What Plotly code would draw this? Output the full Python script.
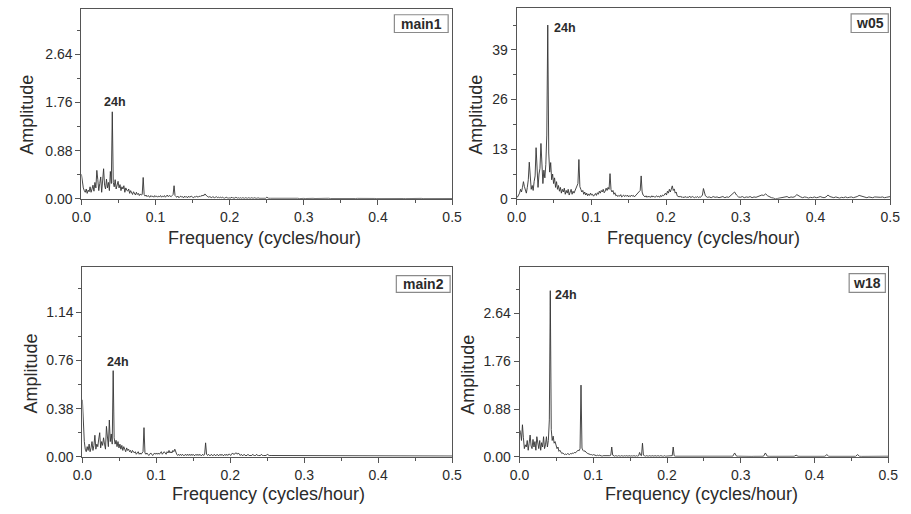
import plotly.graph_objects as go

W, H = 911, 514
DF_LOW = 1 / 768   # fine frequency step below 0.25 cycles/hour
DF_HIGH = 1 / 384  # coarser step from 0.25 to 0.5 cycles/hour
F_SPLIT = 0.25

# Amplitude spectra: "_low" bins cover 0 .. <0.25, "_high" bins cover 0.25 .. 0.5
main1_low = [
    0.45, 0.30, 0.20, 0.15, 0.12, 0.18, 0.10, 0.16, 0.13, 0.22, 0.12, 0.18, 0.25, 0.14, 0.30, 0.20,
    0.52, 0.35, 0.15, 0.28, 0.40, 0.12, 0.30, 0.55, 0.25, 0.18, 0.36, 0.20, 0.30, 0.15, 0.50, 0.28,
    1.59, 0.30, 0.22, 0.35, 0.18, 0.28, 0.32, 0.20, 0.26, 0.15, 0.22, 0.18, 0.24, 0.12, 0.20, 0.16,
    0.14, 0.18, 0.10, 0.15, 0.12, 0.08, 0.13, 0.10, 0.07, 0.12, 0.08, 0.10, 0.06, 0.09, 0.07, 0.08,
    0.39, 0.08, 0.05, 0.07, 0.04, 0.06, 0.05, 0.03, 0.06, 0.04, 0.05, 0.03, 0.06, 0.04, 0.05, 0.03,
    0.05, 0.04, 0.06, 0.03, 0.05, 0.04, 0.06, 0.03, 0.05, 0.07, 0.04, 0.06, 0.05, 0.04, 0.06, 0.08,
    0.24, 0.06, 0.04, 0.03, 0.05, 0.02, 0.04, 0.05, 0.03, 0.04, 0.02, 0.05, 0.03, 0.04, 0.02, 0.05,
    0.03, 0.04, 0.05, 0.03, 0.02, 0.04, 0.03, 0.05, 0.04, 0.03, 0.05, 0.04, 0.06, 0.05, 0.07, 0.06,
    0.09, 0.06, 0.05, 0.04, 0.03, 0.04, 0.03, 0.02, 0.04, 0.03, 0.02, 0.03, 0.04, 0.02, 0.03, 0.02,
    0.03, 0.02, 0.03, 0.02, 0.01, 0.02, 0.03, 0.02, 0.01, 0.02, 0.01, 0.02, 0.03, 0.01, 0.02, 0.01,
    0.03, 0.02, 0.01, 0.02, 0.01, 0.02, 0.01, 0.02, 0.01, 0.01, 0.02, 0.01, 0.01, 0.02, 0.01, 0.01,
    0.02, 0.01, 0.01, 0.02, 0.01, 0.01, 0.01, 0.02, 0.01, 0.01, 0.01, 0.01, 0.02, 0.01, 0.01, 0.01,
]
main1_high = [
    0.03, 0.01, 0.01, 0.01, 0.02, 0.01, 0.01, 0.01, 0.01, 0.01, 0.02, 0.01, 0.01, 0.01, 0.01, 0.01,
    0.01, 0.005, 0.01, 0.008, 0.006, 0.01, 0.007, 0.005, 0.009, 0.006, 0.008, 0.005, 0.007, 0.009, 0.006, 0.008,
    0.01, 0.006, 0.005, 0.008, 0.007, 0.005, 0.009, 0.006, 0.007, 0.005, 0.008, 0.006, 0.007, 0.005, 0.006, 0.008,
    0.009, 0.006, 0.005, 0.007, 0.006, 0.008, 0.005, 0.006, 0.007, 0.005, 0.006, 0.008, 0.005, 0.006, 0.007, 0.005,
    0.008, 0.006, 0.005, 0.007, 0.006, 0.005, 0.008, 0.006, 0.005, 0.007, 0.006, 0.005, 0.007, 0.006, 0.005, 0.006,
    0.008, 0.005, 0.006, 0.007, 0.005, 0.006, 0.005, 0.007, 0.006, 0.005, 0.006, 0.005, 0.007, 0.005, 0.006, 0.005,
    0.006,
]

w05_low = [
    0.3, 0.5, 1.0, 1.5, 2.5, 1.8, 3.0, 4.5, 3.2, 2.0, 1.5, 3.0, 5.0, 9.6, 4.0, 2.5,
    3.5, 2.2, 4.5, 6.0, 13.4, 5.0, 3.0, 6.5, 8.0, 14.5, 6.0, 4.0, 7.5, 5.5, 9.0, 16.7,
    45.5, 12.0, 7.0, 9.5, 5.0, 6.5, 4.0, 5.5, 3.0, 4.5, 2.5, 3.5, 2.0, 3.0, 1.5, 2.5,
    1.8, 2.8, 1.2, 2.2, 1.5, 2.5, 1.0, 1.8, 2.5, 1.2, 2.0, 1.5, 2.2, 3.0, 3.5, 4.0,
    10.3, 3.2, 2.5, 1.8, 2.2, 1.2, 1.8, 1.0, 1.5, 0.8, 1.3, 0.9, 1.5, 1.0, 1.2, 0.7,
    1.0, 1.4, 0.9, 1.6, 1.2, 2.0, 1.5, 2.2, 1.8, 2.5, 1.6, 2.0, 2.8, 2.2, 3.0, 2.5,
    6.6, 2.4, 1.8, 2.2, 1.2, 1.6, 0.8, 1.0, 0.6, 0.9, 0.7, 1.1, 0.5, 0.8, 1.0, 0.6,
    0.9, 0.7, 1.0, 0.5, 0.8, 0.6, 1.0, 0.7, 0.9, 0.5, 0.8, 1.0, 1.2, 1.5, 2.0, 2.2,
    6.0, 1.8, 1.0, 0.6, 0.5, 0.8, 0.4, 0.7, 0.5, 0.6, 0.4, 0.8, 0.5, 0.7, 0.4, 0.6,
    0.8, 0.5, 0.7, 0.4, 0.9, 0.6, 1.0, 0.8, 1.2, 1.5, 1.0, 2.0, 1.5, 2.5, 1.8, 2.8,
    3.4, 2.2, 2.6, 1.5, 1.8, 0.8, 0.6, 0.5, 0.7, 0.4, 0.6, 0.3, 0.5, 0.4, 0.6, 0.3,
    0.5, 0.4, 0.7, 0.3, 0.5, 0.6, 0.4, 0.3, 0.5, 0.4, 0.6, 0.3, 0.5, 0.4, 0.7, 1.0,
]
w05_high = [
    2.7, 0.8, 0.4, 0.5, 0.3, 0.6, 0.4, 0.5, 0.3, 0.4, 0.6, 0.3, 0.5, 0.4, 0.9, 1.2,
    1.8, 1.0, 0.5, 0.4, 0.6, 0.3, 0.5, 0.4, 0.6, 0.3, 0.5, 0.4, 0.6, 0.8, 1.0, 0.9,
    1.3, 0.8, 0.5, 0.3, 0.2, 0.0, 0.1, 0.2, 0.3, 0.5, 0.4, 0.6, 0.3, 0.5, 0.4, 0.6,
    1.1, 0.7, 0.5, 0.3, 0.5, 0.4, 0.2, 0.4, 0.3, 0.5, 0.3, 0.4, 0.6, 0.4, 0.3, 0.5,
    1.0, 0.6, 0.4, 0.3, 0.5, 0.4, 0.2, 0.4, 0.3, 0.5, 0.3, 0.4, 0.5, 0.3, 0.4, 0.6,
    0.9, 0.7, 0.5, 0.4, 0.3, 0.5, 0.4, 0.3, 0.5, 0.4, 0.3, 0.4, 0.5, 0.3, 0.4, 0.5,
    0.6,
]

main2_low = [
    0.45, 0.25, 0.12, 0.06, 0.04, 0.08, 0.05, 0.10, 0.04, 0.07, 0.12, 0.05, 0.09, 0.17, 0.06, 0.10,
    0.08, 0.14, 0.19, 0.07, 0.12, 0.09, 0.15, 0.10, 0.06, 0.24, 0.11, 0.08, 0.29, 0.12, 0.18, 0.10,
    0.68, 0.15, 0.10, 0.13, 0.08, 0.12, 0.07, 0.10, 0.06, 0.09, 0.05, 0.08, 0.06, 0.04, 0.07, 0.05,
    0.06, 0.04, 0.05, 0.03, 0.05, 0.04, 0.03, 0.04, 0.02, 0.03, 0.04, 0.02, 0.03, 0.02, 0.03, 0.04,
    0.23, 0.03, 0.02, 0.03, 0.02, 0.01, 0.02, 0.03, 0.02, 0.01, 0.02, 0.03, 0.02, 0.03, 0.02, 0.03,
    0.02, 0.03, 0.04, 0.02, 0.03, 0.04, 0.03, 0.02, 0.04, 0.03, 0.05, 0.03, 0.04, 0.03, 0.05, 0.04,
    0.06, 0.03, 0.02, 0.01, 0.02, 0.01, 0.02, 0.01, 0.02, 0.01, 0.01, 0.02, 0.01, 0.02, 0.01, 0.02,
    0.01, 0.02, 0.01, 0.02, 0.01, 0.01, 0.02, 0.01, 0.02, 0.01, 0.02, 0.01, 0.01, 0.02, 0.01, 0.02,
    0.11, 0.02, 0.01, 0.02, 0.01, 0.01, 0.02, 0.01, 0.01, 0.02, 0.01, 0.01, 0.02, 0.01, 0.01, 0.02,
    0.01, 0.02, 0.01, 0.01, 0.02, 0.01, 0.02, 0.01, 0.02, 0.02, 0.01, 0.02, 0.03, 0.02, 0.02, 0.03,
    0.03, 0.02, 0.03, 0.02, 0.01, 0.02, 0.01, 0.01, 0.02, 0.01, 0.01, 0.01, 0.02, 0.01, 0.01, 0.01,
    0.01, 0.02, 0.01, 0.01, 0.01, 0.02, 0.01, 0.01, 0.01, 0.01, 0.02, 0.01, 0.01, 0.01, 0.01, 0.01,
]
main2_high = [
    0.02, 0.01, 0.01, 0.01, 0.01, 0.01, 0.01, 0.01, 0.01, 0.01, 0.01, 0.01, 0.01, 0.01, 0.01, 0.01,
    0.01, 0.008, 0.006, 0.01, 0.007, 0.005, 0.008, 0.006, 0.007, 0.005, 0.008, 0.006, 0.005, 0.007, 0.006, 0.008,
    0.01, 0.006, 0.005, 0.007, 0.006, 0.008, 0.005, 0.006, 0.007, 0.005, 0.006, 0.008, 0.005, 0.006, 0.007, 0.005,
    0.008, 0.006, 0.005, 0.007, 0.005, 0.006, 0.008, 0.005, 0.006, 0.007, 0.005, 0.006, 0.005, 0.007, 0.006, 0.005,
    0.007, 0.005, 0.006, 0.005, 0.007, 0.006, 0.005, 0.006, 0.005, 0.007, 0.005, 0.006, 0.005, 0.006, 0.007, 0.005,
    0.006, 0.005, 0.007, 0.005, 0.006, 0.005, 0.006, 0.005, 0.007, 0.005, 0.006, 0.005, 0.006, 0.005, 0.006, 0.005,
    0.006,
]

w18_low = [
    0.50, 0.45, 0.30, 0.59, 0.35, 0.15, 0.22, 0.18, 0.30, 0.12, 0.25, 0.40, 0.20, 0.15, 0.32, 0.18,
    0.28, 0.12, 0.37, 0.20, 0.15, 0.30, 0.12, 0.26, 0.18, 0.37, 0.15, 0.22, 0.37, 0.18, 0.30, 0.68,
    3.06, 0.50, 0.30, 0.38, 0.25, 0.28, 0.20, 0.15, 0.18, 0.10, 0.12, 0.08, 0.06, 0.07, 0.05, 0.04,
    0.05, 0.04, 0.06, 0.05, 0.04, 0.06, 0.05, 0.07, 0.06, 0.08, 0.07, 0.09, 0.10, 0.12, 0.11, 0.15,
    1.32, 0.16, 0.12, 0.10, 0.11, 0.08, 0.07, 0.06, 0.05, 0.05, 0.04, 0.04, 0.03, 0.04, 0.03, 0.03,
    0.02, 0.03, 0.02, 0.03, 0.02, 0.02, 0.01, 0.02, 0.02, 0.01, 0.02, 0.01, 0.02, 0.01, 0.02, 0.03,
    0.18, 0.03, 0.02, 0.01, 0.02, 0.01, 0.01, 0.02, 0.01, 0.01, 0.02, 0.01, 0.01, 0.02, 0.01, 0.02,
    0.01, 0.01, 0.02, 0.01, 0.01, 0.02, 0.01, 0.02, 0.01, 0.01, 0.02, 0.01, 0.02, 0.08, 0.03, 0.02,
    0.25, 0.03, 0.02, 0.01, 0.02, 0.01, 0.01, 0.02, 0.01, 0.01, 0.02, 0.01, 0.01, 0.02, 0.01, 0.01,
    0.02, 0.01, 0.01, 0.02, 0.01, 0.01, 0.01, 0.02, 0.01, 0.01, 0.02, 0.01, 0.01, 0.01, 0.02, 0.02,
    0.18, 0.02, 0.01, 0.01, 0.02, 0.01, 0.01, 0.01, 0.02, 0.01, 0.01, 0.01, 0.01, 0.02, 0.01, 0.01,
    0.01, 0.01, 0.02, 0.01, 0.01, 0.01, 0.01, 0.02, 0.01, 0.01, 0.01, 0.01, 0.01, 0.02, 0.01, 0.01,
]
w18_high = [
    0.02, 0.01, 0.01, 0.01, 0.01, 0.01, 0.01, 0.01, 0.01, 0.01, 0.01, 0.01, 0.01, 0.01, 0.01, 0.01,
    0.07, 0.01, 0.01, 0.008, 0.01, 0.007, 0.009, 0.008, 0.01, 0.007, 0.008, 0.009, 0.007, 0.008, 0.01, 0.009,
    0.07, 0.01, 0.008, 0.009, 0.007, 0.01, 0.008, 0.009, 0.007, 0.008, 0.01, 0.007, 0.009, 0.008, 0.007, 0.009,
    0.03, 0.009, 0.008, 0.007, 0.01, 0.008, 0.009, 0.007, 0.008, 0.01, 0.007, 0.008, 0.009, 0.007, 0.008, 0.009,
    0.04, 0.008, 0.009, 0.007, 0.008, 0.01, 0.007, 0.008, 0.009, 0.007, 0.008, 0.009, 0.007, 0.008, 0.009, 0.008,
    0.04, 0.009, 0.007, 0.008, 0.009, 0.007, 0.008, 0.009, 0.007, 0.008, 0.009, 0.008, 0.007, 0.008, 0.009, 0.008,
    0.01,
]

panel_names = ["main1", "w05", "main2", "w18"]
panel_low = [main1_low, w05_low, main2_low, w18_low]
panel_high = [main1_high, w05_high, main2_high, w18_high]
y_max = [3.47, 50, 1.5, 3.5]
y_step = [0.88, 13, 0.38, 0.88]
y_format = [".2f", "d", ".2f", ".2f"]
peak_label = "24h"
peak_bin = 32  # 1/24 cycles/hour in the fine grid

x_ticks_step = 0.1
x_title = "Frequency (cycles/hour)"
y_title = "Amplitude"

FONT = "Liberation Sans, Arial, sans-serif"
INK = "#2b2b2b"
LINE = "#333333"
FRAME = "#555555"


def px_x(p):
    return p / W


def px_y(p):
    return 1 - p / H


# plot-area rectangles in pixels: (left, right, top, bottom)
boxes = [(73, 452, 9, 202), (518, 900, 8, 202), (74, 452, 271, 464), (521, 898, 271, 464)]
# name-tag rectangles in pixels: (left, right, top, bottom)
tags = [(393, 448, 15, 33), (860, 898, 14, 33), (395, 450, 280, 297), (858, 895, 278, 297)]
# offsets of the 24h note from the peak top (px)
peak_shift = [(3, 10), (17, -3), (5, 9), (16, -4)]
# axis-title centres in pixels
x_title_pos = [(260, 242), (709, 242), (264, 502), (707, 502)]
y_title_pos = [(18, 117), (477, 117), (22, 380), (468, 381)]

fig = go.Figure()
layout = dict(
    width=W, height=H, margin=dict(l=0, r=0, t=0, b=0),
    paper_bgcolor="white", plot_bgcolor="white", showlegend=False,
    font=dict(family=FONT, color=INK),
)
annotations = []
shapes = []

for k, name in enumerate(panel_names):
    low, high = panel_low[k], panel_high[k]
    n = k + 1
    xa = "x" if n == 1 else f"x{n}"
    ya = "y" if n == 1 else f"y{n}"
    freqs = [i * DF_LOW for i in range(len(low))] + [F_SPLIT + j * DF_HIGH for j in range(len(high))]
    fig.add_trace(go.Scatter(
        x=freqs, y=low + high, mode="lines", xaxis=xa, yaxis=ya,
        line=dict(color=LINE, width=0.9), hoverinfo="skip",
    ))
    l, r, t, b = boxes[k]
    common = dict(
        showline=True, linecolor=FRAME, linewidth=1, mirror=True,
        showgrid=False, zeroline=False, ticks="outside", ticklen=5,
        tickwidth=1, tickcolor=FRAME, tickfont=dict(size=14, color=INK, family=FONT),
    )
    layout["xaxis" if n == 1 else f"xaxis{n}"] = dict(
        common, domain=[px_x(l), px_x(r)], anchor=ya, range=[0, 0.5],
        tick0=0, dtick=x_ticks_step, tickformat=".1f",
        minor=dict(ticks="outside", ticklen=3, dtick=x_ticks_step / 2, tickcolor=FRAME),
    )
    layout["yaxis" if n == 1 else f"yaxis{n}"] = dict(
        common, domain=[px_y(b), px_y(t)], anchor=xa, range=[0, y_max[k]],
        tick0=0, dtick=y_step[k], tickformat=y_format[k],
        minor=dict(ticks="outside", ticklen=3, dtick=y_step[k] / 2, tickcolor=FRAME),
    )

    # 24-hour peak note
    dx, dy = peak_shift[k]
    annotations.append(dict(
        x=peak_bin * DF_LOW, y=low[peak_bin], xref=xa, yref=ya,
        text=f"<b>{peak_label}</b>", showarrow=False, xshift=dx, yshift=dy,
        font=dict(size=12.5, color=INK, family=FONT),
    ))

    # series name tag
    tl, tr, tt, tb = tags[k]
    shapes.append(dict(
        type="rect", xref="paper", yref="paper",
        x0=px_x(tl), x1=px_x(tr), y0=px_y(tb), y1=px_y(tt),
        line=dict(color="#8a8a8a", width=1.2), fillcolor="white",
    ))
    annotations.append(dict(
        x=px_x((tl + tr) / 2), y=px_y((tt + tb) / 2), xref="paper", yref="paper",
        text=f"<b>{name}</b>", showarrow=False, xanchor="center", yanchor="middle",
        font=dict(size=14, color=INK, family=FONT),
    ))

    # axis titles
    cx, cy = x_title_pos[k]
    annotations.append(dict(
        x=px_x(cx), y=px_y(cy), xref="paper", yref="paper", text=x_title,
        showarrow=False, xanchor="center", yanchor="middle",
        font=dict(size=18, color=INK, family=FONT),
    ))
    cx, cy = y_title_pos[k]
    annotations.append(dict(
        x=px_x(cx), y=px_y(cy), xref="paper", yref="paper", text=y_title,
        showarrow=False, xanchor="center", yanchor="middle", textangle=-90,
        font=dict(size=18, color=INK, family=FONT),
    ))

layout["annotations"] = annotations
layout["shapes"] = shapes
fig.update_layout(**layout)
fig.write_html("out.html")
